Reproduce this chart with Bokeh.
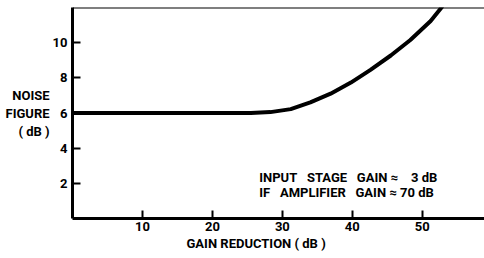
from bokeh.plotting import figure
from bokeh.models import Span, Label, FixedTicker, Title
from bokeh.embed import file_html
from bokeh.resources import INLINE

# Data
gain_reduction = [0, 25.5, 28.3, 31.2, 34, 36.9, 39.8, 42.6, 45.5, 48.3, 51.2, 52.9]
noise_figure = [6.0, 6.0, 6.05, 6.22, 6.6, 7.1, 7.73, 8.45, 9.27, 10.15, 11.23, 12.07]
x_ticks = [10, 20, 30, 40, 50]
y_ticks = [2, 4, 6, 8, 10]
NB = "\u00a0"
notes = ["INPUT" + NB * 3 + "STAGE" + NB * 3 + "GAIN \u2248" + NB * 4 + "3 dB",
         "IF" + NB * 3 + "AMPLIFIER" + NB * 3 + "GAIN \u2248 70 dB"]

FONT = "Roboto"

p = figure(width=484, height=258, x_range=(0, 58.9), y_range=(0, 12),
           output_backend="svg", toolbar_location=None,
           min_border_left=72, min_border_right=0, min_border_top=7, min_border_bottom=40)
p.outline_line_color = None
p.xgrid.visible = False
p.ygrid.visible = False

for ax in (p.xaxis, p.yaxis):
    ax.axis_line_width = 3
    ax.axis_line_color = "black"
    ax.major_tick_line_width = 2
    ax.major_tick_line_color = "black"
    ax.major_tick_in = 8
    ax.major_tick_out = 0
    ax.minor_tick_line_color = None
    ax.major_label_text_font = FONT
    ax.major_label_text_font_style = "bold"
    ax.major_label_text_font_size = "13px"
    ax.major_label_text_color = "black"

p.xaxis.ticker = FixedTicker(ticks=x_ticks)
p.yaxis.ticker = FixedTicker(ticks=y_ticks)
p.xaxis.major_label_standoff = 3
p.yaxis.major_label_standoff = 5

p.yaxis.axis_label = "NOISE\nFIGURE\n( dB )"
p.yaxis.axis_label_orientation = "horizontal"
p.yaxis.axis_label_text_font = FONT
p.yaxis.axis_label_text_font_style = "bold"
p.yaxis.axis_label_text_font_size = "13px"
p.yaxis.axis_label_text_color = "black"
p.yaxis.axis_label_standoff = 0

p.add_layout(Span(location=12, dimension="width", line_color="black", line_width=2))

p.line(gain_reduction, noise_figure, line_color="black", line_width=4, line_join="round")

p.add_layout(Title(text="GAIN REDUCTION ( dB )", align="left", offset=114, standoff=0,
                   text_font=FONT, text_font_style="bold", text_font_size="13px",
                   text_color="black"), "below")
for i, t in enumerate(notes):
    p.add_layout(Label(x=26.7, y=2.33 - 0.85 * i, text=t, text_align="left",
                       text_baseline="middle", text_font=FONT, text_font_style="bold",
                       text_font_size="13px", text_color="black"))

open("out.html", "w").write(file_html(p, INLINE))
